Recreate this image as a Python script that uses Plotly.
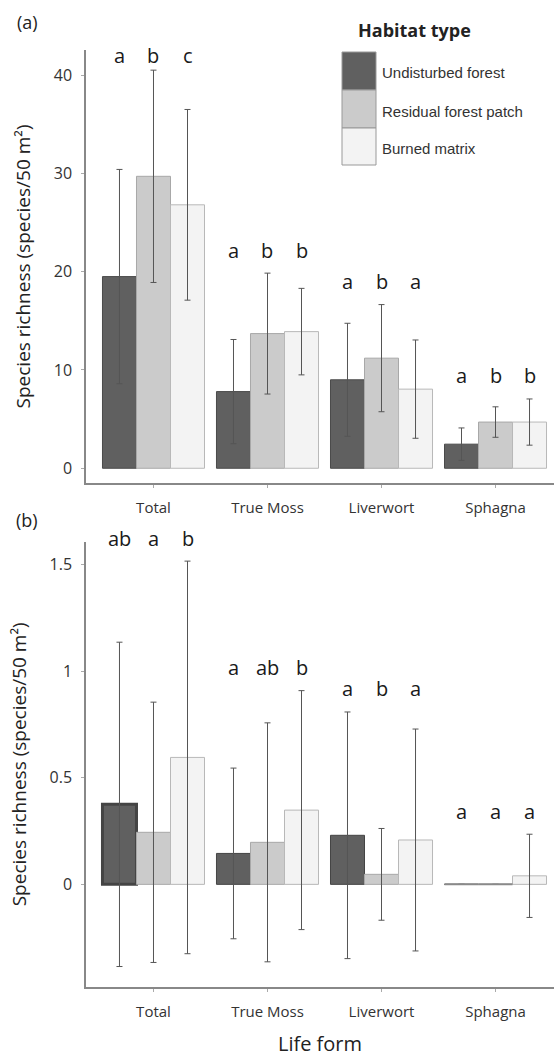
import plotly.graph_objects as go
from plotly.subplots import make_subplots

# ---------------- data ----------------
categories = ["Total", "True Moss", "Liverwort", "Sphagna"]
habitats = ["Undisturbed forest", "Residual forest patch", "Burned matrix"]

a_undisturbed = [19.5, 7.8, 9.0, 2.45]
a_undisturbed_err = [10.9, 5.3, 5.75, 1.65]
a_residual = [29.7, 13.7, 11.2, 4.7]
a_residual_err = [10.8, 6.15, 5.45, 1.55]
a_burned = [26.8, 13.9, 8.05, 4.7]
a_burned_err = [9.7, 4.4, 5.0, 2.35]

b_undisturbed = [0.375, 0.145, 0.23, 0.0]
b_undisturbed_err = [0.76, 0.40, 0.578, 0.0]
b_residual = [0.244, 0.197, 0.047, 0.0]
b_residual_err = [0.61, 0.56, 0.215, 0.0]
b_burned = [0.595, 0.348, 0.208, 0.04]
b_burned_err = [0.92, 0.56, 0.52, 0.195]

letters_a = [["a", "b", "c"], ["a", "b", "b"], ["a", "b", "a"], ["a", "b", "b"]]
letters_b = [["ab", "a", "b"], ["a", "ab", "b"], ["a", "b", "a"], ["a", "a", "a"]]

a_ticks = [0, 10, 20, 30, 40]
b_ticks = [0, 0.5, 1, 1.5]
b_ticklabels = ["0", "0.5", "1", "1.5"]

# ---------------- style ----------------
W, H = 554, 1057
ML, MR, MT, MB = 86, 0, 50, 70
FONT = "Open Sans"
fills = ["#606060", "#cbcbcb", "#f3f3f3"]
edges = ["#4a4a4a", "#a8a8a8", "#b8b8b8"]
err_color = "#555555"
bargap = 0.105
xrange_ = [-0.592, 3.513]
a_range = [-1.5, 42.55]
b_range = [-0.481, 1.606]
plot_h = H - MT - MB
a_top_px, a_bot_px = 50, 483
b_top_px, b_bot_px = 541.7, 987

def py_to_paper(py):
    return (H - MB - py) / plot_h

def px_to_paper(px):
    return (px - ML) / (W - ML - MR)

a_domain = [py_to_paper(a_bot_px), py_to_paper(a_top_px)]
b_domain = [py_to_paper(b_bot_px), py_to_paper(b_top_px)]

fig = make_subplots(rows=2, cols=1, shared_xaxes=False)

panel_data = [
    (1, [a_undisturbed, a_residual, a_burned], [a_undisturbed_err, a_residual_err, a_burned_err]),
    (2, [b_undisturbed, b_residual, b_burned], [b_undisturbed_err, b_residual_err, b_burned_err]),
]

for row, vals, errs in panel_data:
    for k in range(3):
        lw = [1] * len(categories)
        if row == 2 and k == 0:
            lw[0] = 3
        fig.add_trace(
            go.Bar(
                x=categories,
                y=vals[k],
                name=habitats[k],
                showlegend=False,
                marker=dict(color=fills[k], line=dict(color=edges[k] if not (row == 2 and k == 0) else "#444444", width=lw)),
                error_y=dict(type="data", array=errs[k], visible=True, color=err_color, thickness=1, width=3),
            ),
            row=row, col=1,
        )

fig.update_layout(
    barmode="group", bargap=bargap, bargroupgap=0,
    width=W, height=H,
    margin=dict(l=ML, r=MR, t=MT, b=MB, autoexpand=False),
    paper_bgcolor="white", plot_bgcolor="white",
    font=dict(family=FONT, color="#222222"),
)

axis_common = dict(showline=True, linecolor="#888888", linewidth=1.5, showgrid=False, zeroline=False,
                   ticks="outside", ticklen=3, tickcolor="#aaaaaa", automargin=False)

fig.update_xaxes(**axis_common, range=xrange_, tickfont=dict(size=15, family=FONT, color="#333333"),
                 ticklabelstandoff=7)
fig.update_xaxes(title=dict(text="Life form", font=dict(size=20, family=FONT, color="#222222"), standoff=22), row=2, col=1)

ytitle = dict(text="Species richness (species/50 m²)", font=dict(size=19, family=FONT, color="#222222"), standoff=18)
fig.update_yaxes(**axis_common, range=a_range, tickvals=a_ticks, domain=a_domain,
                 tickfont=dict(size=16, family=FONT, color="#333333"), ticklabelstandoff=6,
                 title=ytitle, row=1, col=1)
fig.update_yaxes(**axis_common, range=b_range, tickvals=b_ticks, ticktext=b_ticklabels, domain=b_domain,
                 tickfont=dict(size=16, family=FONT, color="#333333"), ticklabelstandoff=6,
                 title=ytitle, row=2, col=1)

# bar geometry in category units
bar_w = (1 - bargap) / 3
offsets = [-bar_w, 0, bar_w]

# significance letters (placed in paper coords so they may sit above the axis top)
def add_letters(letters, vals, errs, rng, domain, top_px, bot_px, ceiling):
    ppu = (bot_px - top_px) / (rng[1] - rng[0])
    for i in range(len(categories)):
        top = max(vals[k][i] + errs[k][i] for k in range(3))
        y = min(top + 23 / ppu, ceiling)
        yp = domain[0] + (y - rng[0]) / (rng[1] - rng[0]) * (domain[1] - domain[0])
        for k in range(3):
            xp = (i + offsets[k] - xrange_[0]) / (xrange_[1] - xrange_[0])
            fig.add_annotation(x=xp, y=yp, xref="paper", yref="paper", text=letters[i][k],
                               showarrow=False, xanchor="center", yanchor="middle",
                               font=dict(size=20, family=FONT, color="#1a1a1a"))

add_letters(letters_a, panel_data[0][1], panel_data[0][2], a_range, a_domain, a_top_px, a_bot_px, 42.0)
add_letters(letters_b, panel_data[1][1], panel_data[1][2], b_range, b_domain, b_top_px, b_bot_px, 99)

# zero-valued bars drawn as a flat line at zero (panel b)
for k in range(3):
    for i, v in enumerate(panel_data[1][1][k]):
        if v == 0:
            fig.add_shape(type="line", xref="x2", yref="y2",
                          x0=i + offsets[k] - bar_w / 2, x1=i + offsets[k] + bar_w / 2, y0=0, y1=0,
                          line=dict(color="#8a8a8a", width=2))

# panel labels
fig.add_annotation(x=px_to_paper(27), y=py_to_paper(22), xref="paper", yref="paper", text="(a)",
                   showarrow=False, xanchor="center", yanchor="middle",
                   font=dict(size=18, family=FONT, color="#222222"))
fig.add_annotation(x=px_to_paper(27), y=py_to_paper(520), xref="paper", yref="paper", text="(b)",
                   showarrow=False, xanchor="center", yanchor="middle",
                   font=dict(size=18, family=FONT, color="#222222"))

# legend (drawn manually to reproduce the large stacked swatches)
fig.add_annotation(x=px_to_paper(414), y=py_to_paper(30), xref="paper", yref="paper", text="<b>Habitat type</b>",
                   showarrow=False, xanchor="center", yanchor="middle",
                   font=dict(size=18, family=FONT, color="#222222"))
sw_x0, sw_x1 = 342, 376
sw_edges = [52, 90, 128, 165]
for k in range(3):
    fig.add_shape(type="rect", xref="paper", yref="paper",
                  x0=px_to_paper(sw_x0), x1=px_to_paper(sw_x1),
                  y0=py_to_paper(sw_edges[k + 1]), y1=py_to_paper(sw_edges[k]),
                  fillcolor=fills[k], line=dict(color="#999999", width=1))
    fig.add_annotation(x=px_to_paper(380), y=py_to_paper((sw_edges[k] + sw_edges[k + 1]) / 2 + 2),
                       xref="paper", yref="paper", text=habitats[k], showarrow=False,
                       xanchor="left", yanchor="middle",
                       font=dict(size=15, family="Liberation Sans", color="#333333"))

fig.write_html("out.html", config={"displayModeBar": False},
               post_script="document.body.style.margin='0';document.body.style.padding='0';")
